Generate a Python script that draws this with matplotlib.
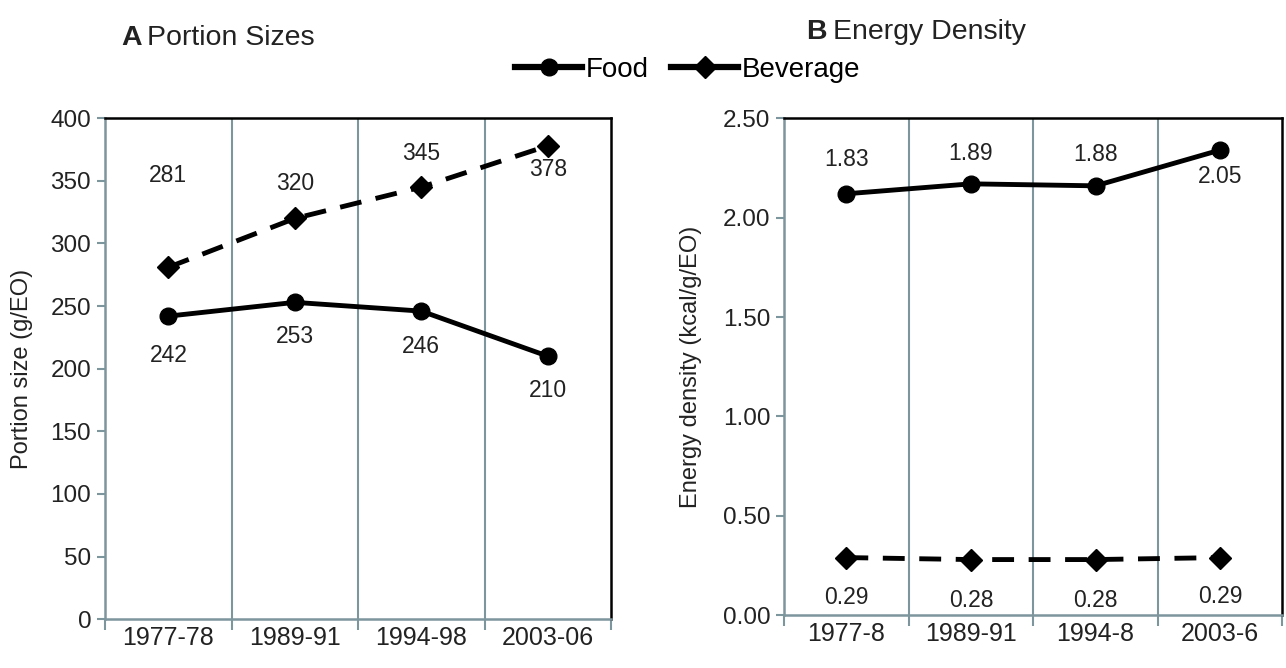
import matplotlib.pyplot as plt
from matplotlib.lines import Line2D
import numpy as np

plt.rcParams['font.family'] = ['Liberation Sans', 'DejaVu Sans']

# Panel A: portion sizes (g/EO)
periods_a = ["1977-78", "1989-91", "1994-98", "2003-06"]
food_portion = [242, 253, 246, 210]
bev_portion = [281, 320, 345, 378]

# Panel B: energy density (kcal/g/EO); plotted points sit above their labels
periods_b = ["1977-8", "1989-91", "1994-8", "2003-6"]
food_density = [2.12, 2.17, 2.16, 2.34]
food_density_labels = ["1.83", "1.89", "1.88", "2.05"]
bev_density = [0.29, 0.28, 0.28, 0.29]
bev_density_labels = ["0.29", "0.28", "0.28", "0.29"]

axis_col = '#7d959d'
txt_col = '#222222'
fs_tick = 17.5
fs_lab = 17
fs_val = 16.5
lw = 3.5
ms = 12


def style_axes(ax, labels):
    n = len(labels)
    ax.set_xlim(-0.5, n - 0.5)
    ax.set_xticks(np.arange(n))
    ax.set_xticklabels(labels, fontsize=fs_tick + 0.5)
    ax.set_xticks(np.arange(n + 1) - 0.5, minor=True)
    ax.tick_params(axis='x', which='major', length=0, pad=5, colors=txt_col)
    ax.tick_params(axis='x', which='minor', length=8, width=1.5, color=axis_col)
    ax.tick_params(axis='y', length=6, width=1.5, color=axis_col,
                   labelsize=fs_tick, labelcolor=txt_col, pad=4)
    for x in np.arange(1, n) - 0.5:
        ax.axvline(x, color=axis_col, lw=1.5, zorder=0)
    for side in ['left', 'bottom']:
        ax.spines[side].set_color(axis_col)
        ax.spines[side].set_linewidth(1.8)
    for side in ['top', 'right']:
        ax.spines[side].set_color('black')
        ax.spines[side].set_linewidth(1.8)


fig = plt.figure(figsize=(12.86, 6.68), dpi=100)
ax1 = fig.add_axes([0.0817, 0.073, 0.3935, 0.750])
ax2 = fig.add_axes([0.6097, 0.079, 0.3875, 0.744])

x = np.arange(4)

# Panel A
ax1.plot(x, food_portion, color='black', lw=lw, marker='o', ms=ms)
ax1.plot(x, bev_portion, color='black', lw=lw, marker='D', ms=ms - 1,
         dashes=(4.5, 3))
ax1.set_ylim(0, 400)
ax1.set_yticks(np.arange(0, 401, 50))
ax1.set_ylabel("Portion size (g/EO)", fontsize=fs_lab, color=txt_col)
ax1.yaxis.set_label_coords(-0.142, 0.5)
style_axes(ax1, periods_a)

food_off_a = [(0, -39), (0, -34), (0, -35), (0, -34)]
bev_off_a = [(0, 92), (0, 35), (0, 34), (0, -24)]
for i in range(4):
    ax1.annotate(str(food_portion[i]), (x[i], food_portion[i]),
                 xytext=food_off_a[i], textcoords='offset pixels',
                 ha='center', va='center', fontsize=fs_val, color=txt_col)
    ax1.annotate(str(bev_portion[i]), (x[i], bev_portion[i]),
                 xytext=bev_off_a[i], textcoords='offset pixels',
                 ha='center', va='center', fontsize=fs_val, color=txt_col)

# Panel B
ax2.plot(x, food_density, color='black', lw=lw, marker='o', ms=ms)
ax2.plot(x, bev_density, color='black', lw=lw, marker='D', ms=ms - 1,
         dashes=(4.5, 3))
ax2.set_ylim(0, 2.5)
ax2.set_yticks(np.arange(0, 2.51, 0.5))
ax2.set_yticklabels([f"{v:.2f}" for v in np.arange(0, 2.51, 0.5)])
ax2.set_ylabel("Energy density (kcal/g/EO)", fontsize=fs_lab, color=txt_col)
ax2.yaxis.set_label_coords(-0.165, 0.5)
style_axes(ax2, periods_b)

food_off_b = [(0, 34), (0, 30), (0, 31), (0, -26)]
bev_off_b = [(0, -40), (0, -41), (0, -41), (0, -39)]
for i in range(4):
    ax2.annotate(food_density_labels[i], (x[i], food_density[i]),
                 xytext=food_off_b[i], textcoords='offset pixels',
                 ha='center', va='center', fontsize=fs_val, color=txt_col)
    ax2.annotate(bev_density_labels[i], (x[i], bev_density[i]),
                 xytext=bev_off_b[i], textcoords='offset pixels',
                 ha='center', va='center', fontsize=fs_val, color=txt_col)

# Titles
fs_title = 20.5
fig.text(0.094, 0.943, "A", fontsize=fs_title, fontweight='bold',
         color=txt_col, va='center')
fig.text(0.114, 0.943, "Portion Sizes", fontsize=fs_title, color=txt_col,
         va='center')
fig.text(0.627, 0.952, "B", fontsize=fs_title, fontweight='bold',
         color=txt_col, va='center')
fig.text(0.648, 0.952, "Energy Density", fontsize=fs_title, color=txt_col,
         va='center')

# Legend
handles = [
    Line2D([], [], color='black', lw=lw + 1, marker='o', ms=ms),
    Line2D([], [], color='black', lw=lw + 1, marker='D', ms=ms - 1),
]
fig.legend(handles, ["Food", "Beverage"], loc='center',
           bbox_to_anchor=(0.535, 0.895), ncol=2, frameon=False,
           fontsize=20, handlelength=2.4, handletextpad=0.15,
           columnspacing=0.8)

fig.savefig("out.png", dpi=100)
